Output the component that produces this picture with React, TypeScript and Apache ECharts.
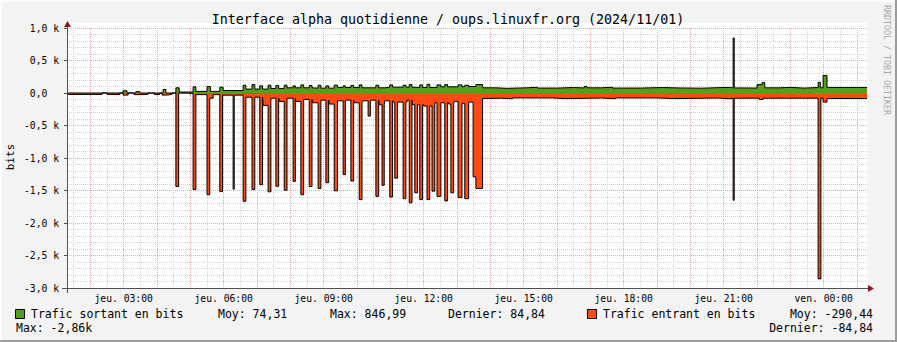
import React, { useEffect, useRef } from "react";
import * as echarts from "echarts";

// time axis in minutes since jeu. 00:00
const TIME_MIN = 78;
const TIME_MAX = 1518;

const xLabelTimes = [180, 360, 540, 720, 900, 1080, 1260, 1440];

// outgoing traffic (bits) : step changes [minute, value]
const outgoingSteps: [number, number][] = [
  [78, 0], [179, 35], [186, 0], [202, 20], [209, 0], [251, 55], [256, 0],
  [280, 15], [310, 25], [336, 25], [340, 25], [358, 38], [400, 60],
  [440, 70], [470, 80], [520, 75], [560, 85], [600, 80], [650, 90],
  [700, 85], [750, 95], [790, 100], [827, 80], [850, 72], [870, 80],
  [905, 88], [925, 76], [960, 84], [990, 78], [1009, 100], [1014, 80],
  [1040, 88], [1060, 76], [1110, 84], [1150, 78], [1180, 74], [1220, 82],
  [1250, 86], [1270, 78], [1300, 76], [1320, 130], [1329, 160], [1334, 80],
  [1360, 86], [1380, 76], [1405, 84], [1430, 165], [1434, 80], [1439, 270],
  [1446, 85], [1518, 85],
];
// outgoing bumps [start minute, duration, value]
const outgoingSpikes: [number, number, number][] = [
  [274, 6, 80], [305, 5, 95], [330, 6, 100], [353, 6, 90], [395, 5, 120],
  [411, 5, 130], [425, 5, 110], [440, 5, 120], [454, 5, 115], [469, 5, 120],
  [485, 4, 110], [499, 5, 125], [514, 5, 115], [530, 5, 120], [544, 5, 110],
  [559, 6, 120], [575, 4, 110], [589, 5, 115], [604, 5, 125], [634, 5, 120],
  [659, 5, 125], [683, 5, 120], [694, 5, 130], [713, 5, 125], [726, 5, 135],
  [744, 7, 125], [758, 5, 130], [782, 7, 125], [794, 7, 120], [814, 12, 130],
  [1277, 2, 847],
];

// incoming traffic (negative bits) : step changes [minute, value]
const incomingSteps: [number, number][] = [
  [78, -22], [141, 0], [150, -22], [173, 0], [179, -32], [188, 0],
  [199, -25], [213, -20], [224, 0], [235, -22], [245, 0], [249, -32],
  [258, -22], [267, 0], [280, -5], [310, -25], [335, -80], [341, -25],
  [358, -33], [400, -65], [431, -190], [445, -80], [460, -130],
  [474, -80], [490, -130], [504, -100], [520, -150], [535, -110],
  [550, -170], [565, -120], [580, -110], [595, -150], [610, -120],
  [625, -110], [640, -180], [650, -120], [665, -140], [690, -110],
  [700, -180], [720, -200], [740, -150], [765, -170], [775, -130],
  [789, -160], [801, -140], [826, -85], [827, -80], [860, -88],
  [880, -76], [950, -86], [975, -78], [1040, -88], [1065, -76],
  [1140, -86], [1170, -78], [1250, -88], [1270, -80], [1324, -100],
  [1331, -80], [1439, -140], [1446, -85], [1518, -85],
];
// incoming spikes [start minute, duration, value]
const incomingSpikes: [number, number, number][] = [
  [274, 5, -1440], [305, 5, -1485], [330, 5, -1565], [353, 5, -1515],
  [377, 2, -1480], [395, 5, -1665], [411, 5, -1485], [425, 5, -1410],
  [440, 5, -1520], [454, 5, -1435], [469, 5, -1495], [485, 4, -1360],
  [499, 5, -1565], [514, 5, -1440], [530, 5, -1470], [544, 5, -1380],
  [559, 6, -1505], [575, 4, -1255], [589, 5, -1355], [604, 5, -1640],
  [620, 4, -355], [634, 5, -1590], [645, 4, -1420], [659, 5, -1600],
  [668, 5, -1310], [683, 5, -1625], [694, 5, -1690], [704, 5, -1535],
  [713, 5, -1640], [726, 5, -1640], [735, 5, -1510], [744, 7, -1590],
  [758, 5, -1660], [769, 5, -1535], [782, 7, -1610], [794, 7, -1625],
  [809, 5, -1290], [814, 12, -1470], [1277, 2, -1650], [1430, 5, -2860],
];

const legendOut = { name: "Trafic sortant en bits", moy: "Moy: 74,31", max: "Max: 846,99", last: "Dernier: 84,84" };
const legendIn = { name: "Trafic entrant en bits", moy: "Moy: -290,44", max: "Max: -2,86k", last: "Dernier: -84,84" };

const GREEN = "#54a01c";
const RED = "#ff4a12";
const MONO = '"DejaVu Sans Mono", monospace';

function buildSteps(base: [number, number][], spikes: [number, number, number][]) {
  const valueAt = (t: number) => {
    let v = base[0][1];
    for (const [bt, bv] of base) {
      if (bt <= t) v = bv;
      else break;
    }
    return v;
  };
  const inSpike = (t: number) => spikes.some(([s, d]) => t >= s && t < s + d);
  const pts: [number, number][] = [];
  for (const [t, v] of base) if (!inSpike(t)) pts.push([t, v]);
  for (const [s, d, v] of spikes) {
    pts.push([s, v]);
    if (!inSpike(s + d)) pts.push([s + d, valueAt(s + d)]);
  }
  pts.sort((a, b) => a[0] - b[0]);
  return pts;
}

function pad(n: number) {
  return (n < 10 ? "0" : "") + n;
}

export default function App() {
  const ref = useRef<HTMLDivElement>(null);
  useEffect(() => {
    if (!ref.current) return;
    const chart = echarts.init(ref.current, null, { renderer: "svg" });
    const hourLines: number[] = [];
    const halfLines: number[] = [];
    for (let t = 60; t <= TIME_MAX; t += 60) if (t > TIME_MIN) hourLines.push(t);
    for (let t = 90; t <= TIME_MAX; t += 60) if (t > TIME_MIN) halfLines.push(t);

    const outData = buildSteps(outgoingSteps, outgoingSpikes);
    const inData = buildSteps(incomingSteps, incomingSpikes);

    const txt = (text: string, x: number, y: number, size: number, extra: any = {}) => ({
      type: "text",
      x,
      y,
      silent: true,
      ...extra,
      style: {
        text,
        font: `${size}px ${MONO}`,
        fill: extra.fill || "#000",
        align: extra.align || "left",
        verticalAlign: "middle",
      },
    });

    chart.setOption({
      animation: false,
      backgroundColor: "#f3f3f3",
      grid: {
        left: 67,
        top: 28,
        width: 800,
        height: 260,
        show: true,
        backgroundColor: "#ffffff",
        borderWidth: 0,
      },
      xAxis: [
        {
          type: "value",
          min: TIME_MIN,
          max: TIME_MAX,
          axisLine: { show: false },
          axisTick: { show: true, customValues: hourLines, length: 3, lineStyle: { color: "#e08080" } },
          axisLabel: {
            customValues: xLabelTimes,
            margin: 5,
            fontFamily: MONO,
            fontSize: 9.7,
            color: "#000",
            formatter: (v: number) => {
              const day = v >= 1440 ? "ven." : "jeu.";
              const m = Math.round(v) % 1440;
              return `${day} ${pad(Math.floor(m / 60))}:${pad(m % 60)}`;
            },
          },
          splitLine: { show: true, lineStyle: { color: "#f2a4a4", type: [1, 1], width: 1 } },
        },
        {
          type: "value",
          min: TIME_MIN,
          max: TIME_MAX,
          position: "top",
          axisLine: { show: false },
          axisTick: { show: false, customValues: halfLines },
          axisLabel: { show: false },
          splitLine: { show: true, lineStyle: { color: "#d4d4d4", type: [1, 1], width: 1 } },
        },
      ],
      yAxis: {
        type: "value",
        min: -3000,
        max: 1000,
        interval: 500,
        splitNumber: 8,
        axisLine: { show: false },
        axisTick: { show: true, length: 3, lineStyle: { color: "#505050" } },
        minorTick: { show: false, splitNumber: 5 },
        minorSplitLine: { show: true, lineStyle: { color: "#d4d4d4", type: [1, 1], width: 1 } },
        splitLine: { show: true, lineStyle: { color: "#f2a4a4", type: [1, 1], width: 1 } },
        axisLabel: {
          margin: 8,
          fontFamily: MONO,
          fontSize: 9.7,
          color: "#000",
          formatter: (v: number) =>
            v === 0 ? "0,0\u00a0\u00a0" : (v / 1000).toFixed(1).replace(".", ",") + " k",
        },
      },
      series: [
        {
          type: "line",
          name: legendOut.name,
          data: outData,
          step: "end",
          symbol: "none",
          silent: true,
          z: 3,
          lineStyle: { color: "#000", width: 1 },
          itemStyle: { color: GREEN },
          areaStyle: { color: GREEN, opacity: 1 },
        },
        {
          type: "line",
          name: legendIn.name,
          data: inData,
          step: "end",
          symbol: "none",
          silent: true,
          z: 3,
          lineStyle: { color: "#000", width: 1 },
          itemStyle: { color: RED },
          areaStyle: { color: RED, opacity: 1 },
        },
      ],
      graphic: [
        // frame
        { type: "rect", silent: true, shape: { x: 0, y: 0, width: 897, height: 2 }, style: { fill: "#fcfcfc" } },
        { type: "rect", silent: true, shape: { x: 0, y: 0, width: 2, height: 342 }, style: { fill: "#fcfcfc" } },
        { type: "rect", silent: true, shape: { x: 0, y: 340, width: 897, height: 2 }, style: { fill: "#9c9c9c" } },
        { type: "rect", silent: true, shape: { x: 895, y: 0, width: 2, height: 342 }, style: { fill: "#9c9c9c" } },
        // canvas strip above top gridline
        { type: "rect", silent: true, z: -1, shape: { x: 67, y: 23, width: 800, height: 5 }, style: { fill: "#fff" } },
        // axes
        { type: "line", silent: true, z: 10, shape: { x1: 62, y1: 288.5, x2: 869, y2: 288.5 }, style: { stroke: "#505050", lineWidth: 1 } },
        { type: "line", silent: true, z: 10, shape: { x1: 67.5, y1: 293, x2: 67.5, y2: 25 }, style: { stroke: "#505050", lineWidth: 1 } },
        { type: "polygon", silent: true, z: 10, shape: { points: [[868, 285], [874, 288.5], [868, 292]] }, style: { fill: "#8b1a1a" } },
        { type: "polygon", silent: true, z: 10, shape: { points: [[64, 27], [67.5, 21], [71, 27]] }, style: { fill: "#8b1a1a" } },
        // title
        txt("Interface alpha quotidienne / oups.linuxfr.org (2024/11/01)", 448, 19, 13.3, { align: "center" }),
        // unit
        txt("bits", 10, 157, 11, { align: "center", rotation: Math.PI / 2 }),
        // watermark
        txt("RRDTOOL / TOBI OETIKER", 887, 5, 8.3, { rotation: -Math.PI / 2, fill: "#a8a8a8" }),
        // legend
        { type: "rect", silent: true, shape: { x: 15.5, y: 309.5, width: 9, height: 9 }, style: { fill: GREEN, stroke: "#000", lineWidth: 1 } },
        txt(legendOut.name, 31, 314, 11.5),
        txt(legendOut.moy, 218, 314, 11.5),
        txt(legendOut.max, 330, 314, 11.5),
        txt(legendOut.last, 448, 314, 11.5),
        { type: "rect", silent: true, shape: { x: 587.5, y: 309.5, width: 9, height: 9 }, style: { fill: RED, stroke: "#000", lineWidth: 1 } },
        txt(legendIn.name, 603, 314, 11.5),
        txt(legendIn.moy, 873, 314, 11.5, { align: "right" }),
        txt(legendIn.max, 16, 328, 11.5),
        txt(legendIn.last, 873, 328, 11.5, { align: "right" }),
      ],
    });
    return () => chart.dispose();
  }, []);
  return (
    <div
      ref={ref}
      style={{ position: "fixed", left: 0, top: 0, width: 897, height: 342 }}
    />
  );
}
